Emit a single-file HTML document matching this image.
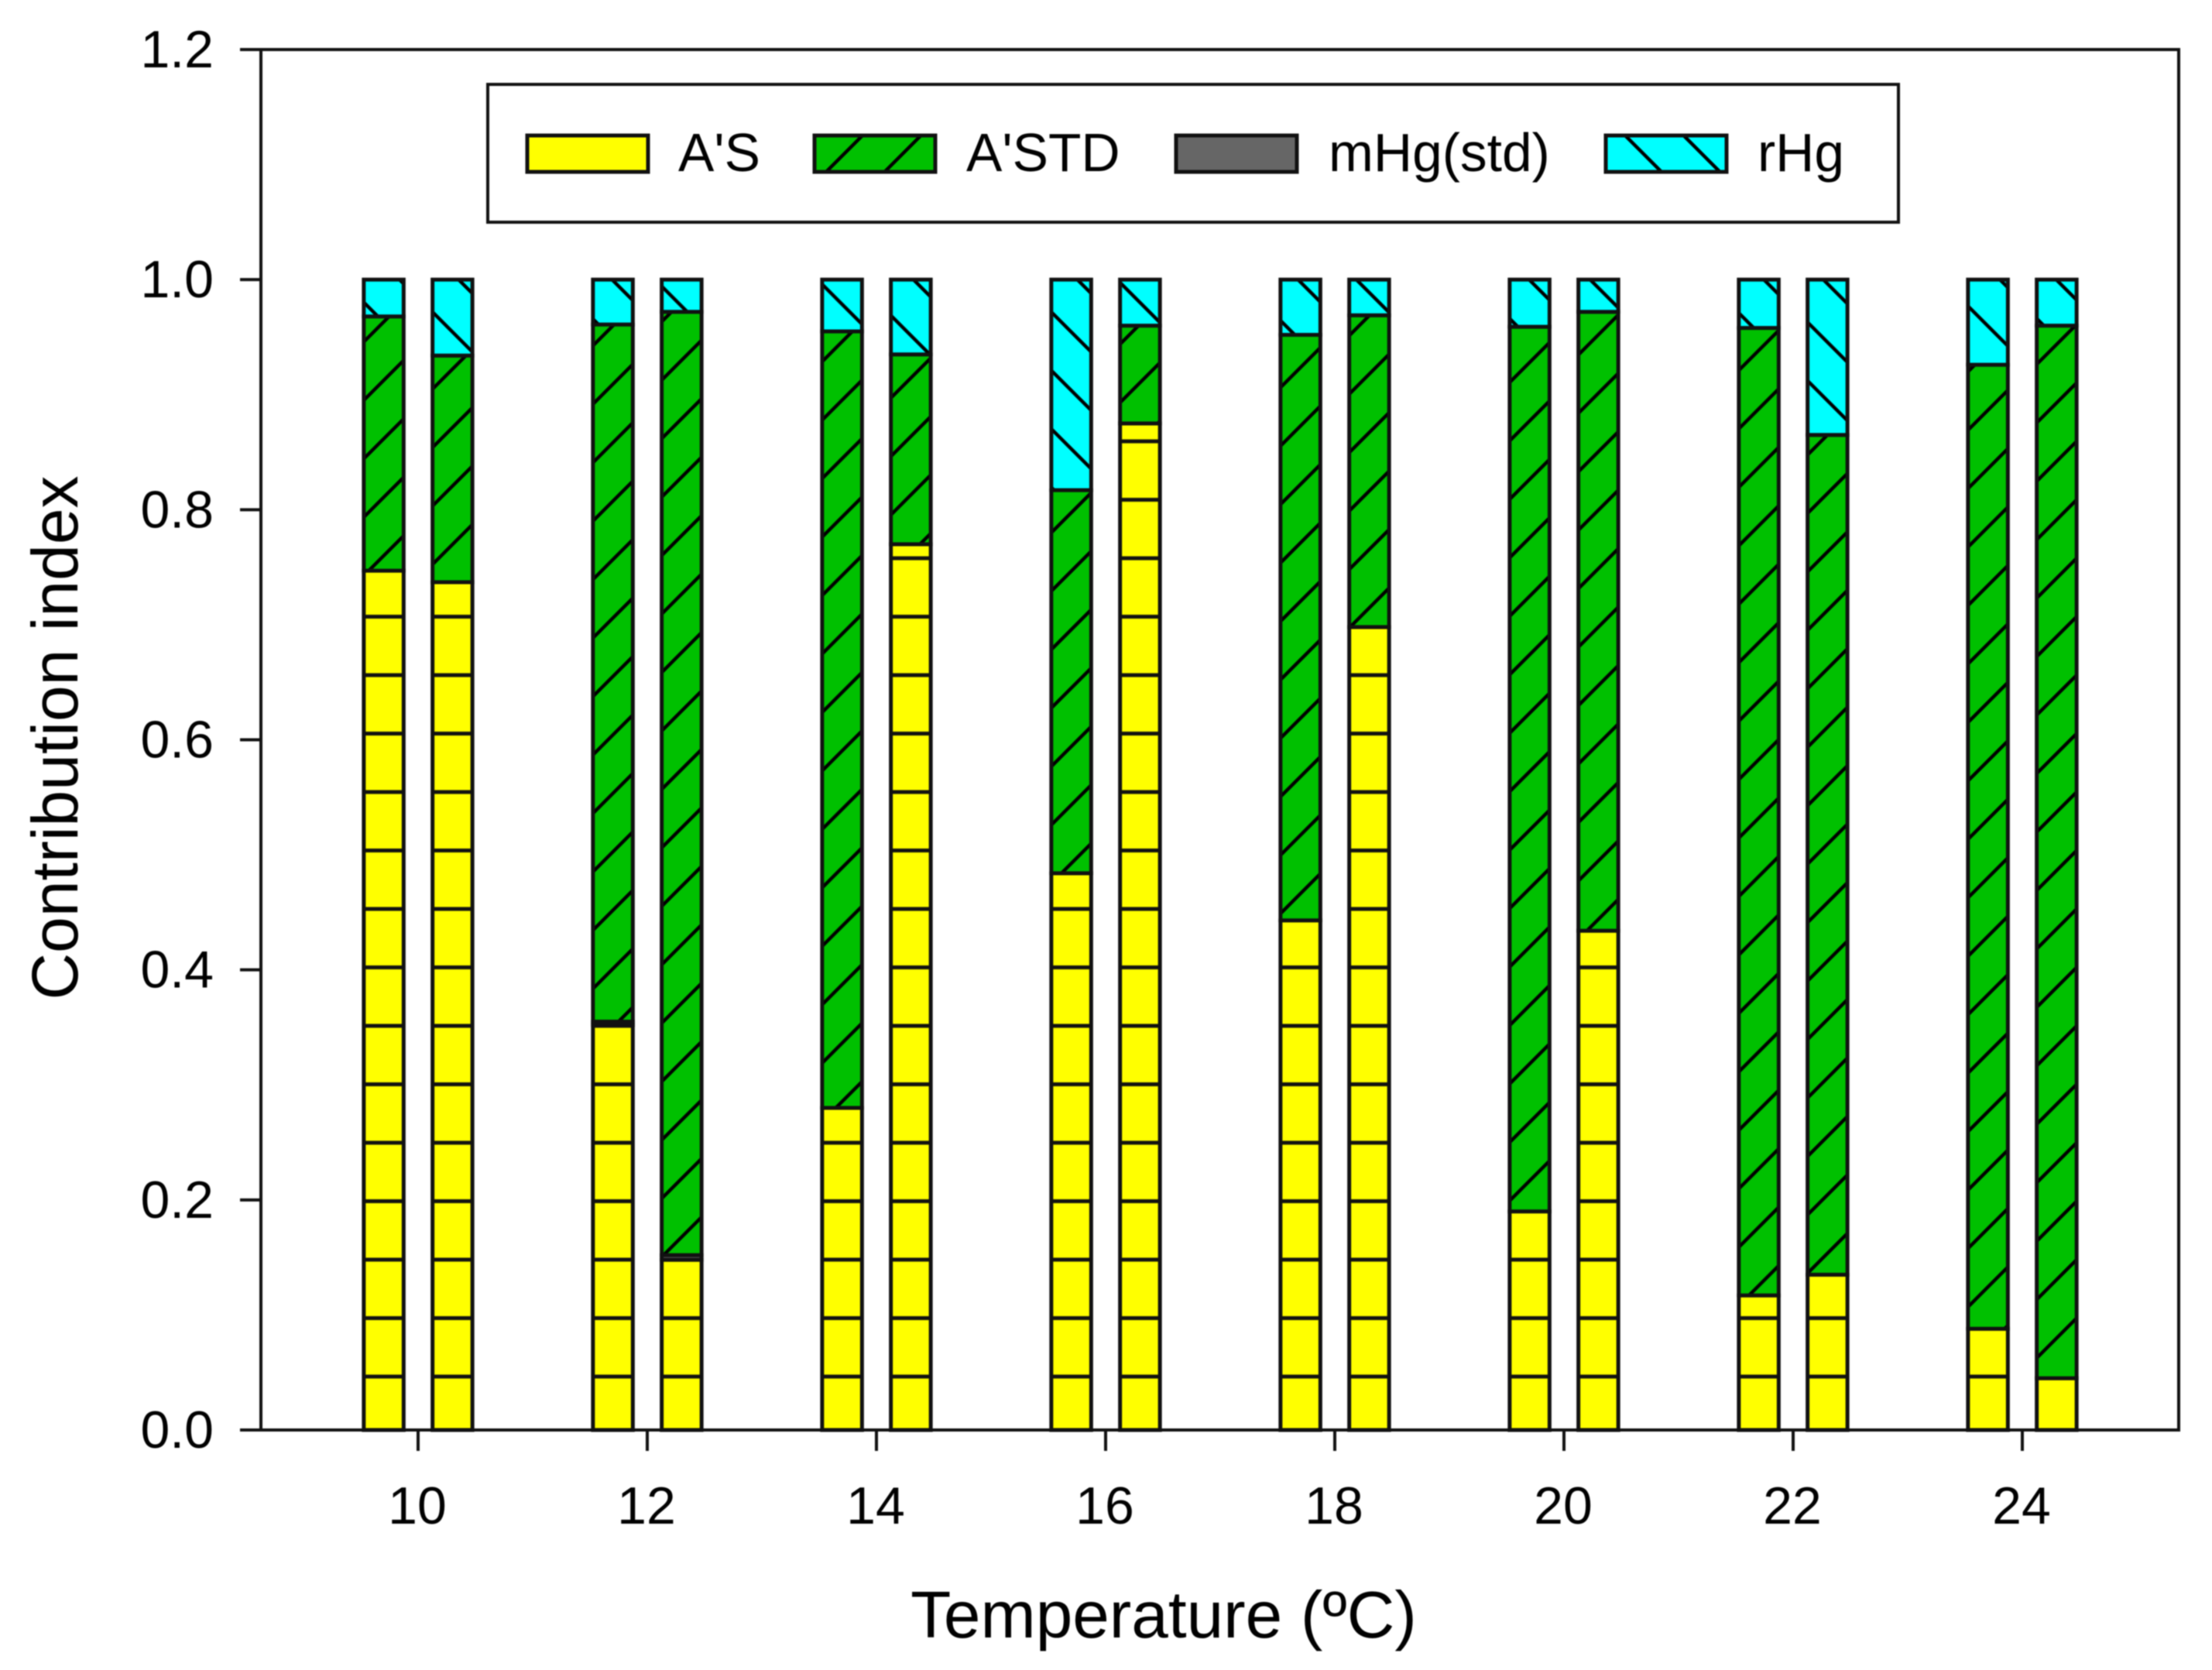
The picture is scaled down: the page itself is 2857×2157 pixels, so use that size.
<!DOCTYPE html>
<html>
<head>
<meta charset="utf-8">
<title>Contribution index vs temperature</title>
<style>
html,body{margin:0;padding:0;background:#fff;}
svg{display:block;filter:blur(0.9px);}
text{font-family:"Liberation Sans",Arial,sans-serif;fill:#000;}
</style>
</head>
<body>
<svg id="chart" xmlns="http://www.w3.org/2000/svg" width="2857" height="2157" viewBox="0 0 2857 2157">
  <defs id="defs"></defs>
  <rect x="0" y="0" width="2857" height="2157" fill="#fff"/>
  <g id="bars"></g>
  <rect x="337" y="64" width="2477" height="1783" fill="none" stroke="#111" stroke-width="4"/>
  <g id="axes"></g>
  <g id="legend">
    <rect x="630" y="109" width="1822" height="178" fill="#fff" stroke="#111" stroke-width="4"/>
    <g>
      <rect x="681" y="175" width="156" height="47" fill="#ffff00" stroke="#111" stroke-width="5"/>
      <text x="876" y="221" font-size="69.5">A'S</text>
    </g>
    <g>
      <rect x="1052" y="175" width="156" height="47" fill="url(#legend-green)" stroke="#111" stroke-width="5"/>
      <text x="1248" y="221" font-size="69.5">A'STD</text>
    </g>
    <g>
      <rect x="1519" y="175" width="156" height="47" fill="#666666" stroke="#111" stroke-width="5"/>
      <text x="1716" y="221" font-size="69.5">mHg(std)</text>
    </g>
    <g>
      <rect x="2074" y="175" width="156" height="47" fill="url(#legend-cyan)" stroke="#111" stroke-width="5"/>
      <text x="2270" y="221" font-size="69.5">rHg</text>
    </g>
  </g>
  <text x="1503" y="2115" font-size="85.5" text-anchor="middle">Temperature (ºC)</text>
  <text transform="translate(100,953) rotate(-90)" font-size="84" text-anchor="middle">Contribution index</text>
</svg>
<script>
// Chart data: two stacked bars at each temperature
const temperatures = [10, 12, 14, 16, 18, 20, 22, 24];
const xTickLabels = ['10', '12', '14', '16', '18', '20', '22', '24'];
const yTickValues = [0, 0.2, 0.4, 0.6, 0.8, 1.0, 1.2];
const yTickLabels = ['0.0', '0.2', '0.4', '0.6', '0.8', '1.0', '1.2'];
const seriesAS   = [0.747, 0.737, 0.352, 0.148, 0.280, 0.770, 0.484, 0.875, 0.443, 0.698, 0.190, 0.434, 0.117, 0.135, 0.088, 0.045];
const seriesMHg  = [0.000, 0.000, 0.003, 0.004, 0.000, 0.000, 0.000, 0.000, 0.000, 0.000, 0.000, 0.000, 0.000, 0.000, 0.000, 0.000];
const seriesASTD = [0.221, 0.197, 0.606, 0.820, 0.675, 0.165, 0.333, 0.085, 0.509, 0.271, 0.769, 0.538, 0.841, 0.730, 0.838, 0.915];
const seriesRHg  = [0.032, 0.066, 0.039, 0.028, 0.045, 0.065, 0.183, 0.040, 0.048, 0.031, 0.041, 0.028, 0.042, 0.135, 0.074, 0.040];
// Hatch phase per bar (style only): offset of the hatch where it meets the bar's left edge
const greenHatchPhase = [66.5, 52, 71.5, 40.5, 16.6, 63.5, 11, 69.5, 50, 58.5, 43.4, 7.7, 27.8, 61.5, 29.5, 20];
const cyanHatchPhase  = [10.5, 23, 32, 65.3, 62.7, 27.5, 23, 60.5, 34, 47.5, 31.5, 41.5, 24.3, 36.3, 15.4, 31.5];

const NS = 'http://www.w3.org/2000/svg';
const HATCH = 75.5;
const X0 = 540, X_PER_UNIT = 148;
const Y0 = 1847, Y_PER_UNIT = (1847 - 64) / 1.2;
const BAR_OFFSET = 0.3, BAR_WIDTH = 51.5;
function xScale(v) { return X0 + (v - temperatures[0]) * X_PER_UNIT; }
function yScale(v) { return Y0 - v * Y_PER_UNIT; }

function svgEl(tag, attrs) {
  const el = document.createElementNS(NS, tag);
  for (const k in attrs) el.setAttribute(k, attrs[k]);
  return el;
}
const defs = document.getElementById('defs');
function addLine(p, x1, y1, x2, y2) {
  p.appendChild(svgEl('line', { x1: x1, y1: y1, x2: x2, y2: y2, stroke: '#000', 'stroke-width': 4.5 }));
}
function makeHatch(id, color, dir, px, py) {
  const p = svgEl('pattern', { id: id, patternUnits: 'userSpaceOnUse', x: px, y: py, width: HATCH, height: HATCH });
  p.appendChild(svgEl('rect', { x: 0, y: 0, width: HATCH, height: HATCH, fill: color }));
  if (dir > 0) {
    addLine(p, -6, HATCH + 6, HATCH + 6, -6);
    addLine(p, -6, 6, 6, -6);
    addLine(p, HATCH - 6, HATCH + 6, HATCH + 6, HATCH - 6);
  } else {
    addLine(p, -6, -6, HATCH + 6, HATCH + 6);
    addLine(p, -6, HATCH - 6, 6, HATCH + 6);
    addLine(p, HATCH - 6, -6, HATCH + 6, 6);
  }
  defs.appendChild(p);
}
// Yellow horizontal hatch, anchored to the page
const yellowPattern = svgEl('pattern', { id: 'hatch-yellow', patternUnits: 'userSpaceOnUse', x: 0, y: 1778 - HATCH * 23 - HATCH / 2, width: 100, height: HATCH });
yellowPattern.appendChild(svgEl('rect', { x: 0, y: 0, width: 100, height: HATCH, fill: '#ffff00' }));
yellowPattern.appendChild(svgEl('rect', { x: 0, y: HATCH / 2 - 2.5, width: 100, height: 5, fill: '#111' }));
defs.appendChild(yellowPattern);
// Legend hatches
makeHatch('legend-green', '#00c000', 1, 1051, 238);
makeHatch('legend-cyan', '#00ffff', -1, 2072, 148);

const barsGroup = document.getElementById('bars');
const stackKeys = ['as', 'mhg', 'astd', 'rhg'];
const stackSeries = [seriesAS, seriesMHg, seriesASTD, seriesRHg];

seriesAS.forEach(function (_, i) {
  const temp = temperatures[Math.floor(i / 2)];
  const cx = xScale(temp + (i % 2 === 0 ? -BAR_OFFSET : BAR_OFFSET));
  const left = cx - BAR_WIDTH / 2;
  makeHatch('hatch-green-' + i, '#00c000', 1, left - 2.5, greenHatchPhase[i]);
  makeHatch('hatch-cyan-' + i, '#00ffff', -1, left - 2.5, cyanHatchPhase[i]);
  const fills = ['url(#hatch-yellow)', '#666666', 'url(#hatch-green-' + i + ')', 'url(#hatch-cyan-' + i + ')'];
  let base = 0;
  stackSeries.forEach(function (series, s) {
    const v = series[i];
    if (v <= 0) return;
    const yTop = yScale(base + v);
    const yBot = yScale(base);
    const r = svgEl('rect', { x: left, y: yTop, width: BAR_WIDTH, height: yBot - yTop, fill: fills[s], stroke: '#111', 'stroke-width': 5 });
    
    
    barsGroup.appendChild(r);
    base += v;
  });
});

// Axes
const axes = document.getElementById('axes');
yTickValues.forEach(function (v, i) {
  const y = yScale(v);
  const t = svgEl('line', { x1: 310, y1: y, x2: 337, y2: y, stroke: '#111', 'stroke-width': 4 });
  
  
  axes.appendChild(t);
  const l = svgEl('text', { x: 276, y: y + 23, 'font-size': 68, 'text-anchor': 'end' });
  
  
  l.textContent = yTickLabels[i];
  axes.appendChild(l);
});
temperatures.forEach(function (v, i) {
  const x = xScale(v);
  const t = svgEl('line', { x1: x, y1: 1847, x2: x, y2: 1874, stroke: '#111', 'stroke-width': 4 });
  
  
  axes.appendChild(t);
  const l = svgEl('text', { x: x - 1, y: 1968, 'font-size': 68, 'text-anchor': 'middle' });
  
  
  l.textContent = xTickLabels[i];
  axes.appendChild(l);
});
</script>
</body>
</html>
